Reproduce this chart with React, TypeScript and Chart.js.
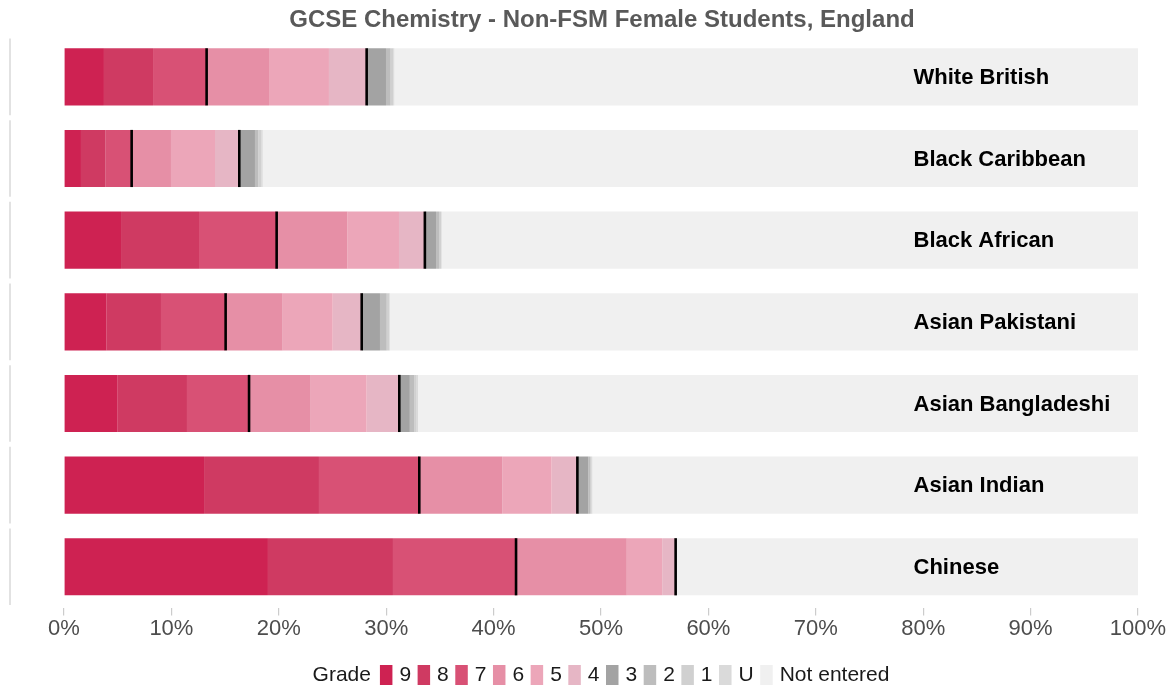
import React, { useEffect, useRef } from "react";
import { Chart, registerables } from "chart.js";

Chart.register(...registerables);

const TITLE = "GCSE Chemistry - Non-FSM Female Students, England";
const categories = [
  "White British",
  "Black Caribbean",
  "Black African",
  "Asian Pakistani",
  "Asian Bangladeshi",
  "Asian Indian",
  "Chinese",
];
const gradeLabels = ["9", "8", "7", "6", "5", "4", "3", "2", "1", "U", "Not entered"];
const grade9 = [3.72, 1.58, 5.31, 3.97, 5.0, 13.04, 18.99];
const grade8 = [4.57, 2.3, 7.26, 5.06, 6.45, 10.7, 11.64];
const grade7 = [4.99, 2.42, 7.23, 6.02, 5.78, 9.34, 11.46];
const grade6 = [5.81, 3.66, 6.6, 5.31, 5.74, 7.72, 10.31];
const grade5 = [5.58, 4.1, 4.79, 4.66, 5.21, 4.6, 3.3];
const grade4 = [3.51, 2.26, 2.41, 2.7, 3.04, 2.4, 1.25];
const grade3 = [1.8, 1.46, 1.04, 1.7, 0.98, 1.02, 0.05];
const grade2 = [0.43, 0.32, 0.28, 0.63, 0.4, 0.16, 0.02];
const grade1 = [0.25, 0.3, 0.18, 0.24, 0.24, 0.15, 0.02];
const gradeU = [0.1, 0.1, 0.07, 0.06, 0.12, 0.07, 0.02];
const notEntered = [69.24, 81.5, 64.83, 69.65, 67.04, 50.8, 42.94];
const xTicks = [0, 10, 20, 30, 40, 50, 60, 70, 80, 90, 100];

const seriesValues = [grade9, grade8, grade7, grade6, grade5, grade4, grade3, grade2, grade1, gradeU, notEntered];
const colors = [
  "#CE2252",
  "#CF3A62",
  "#D85175",
  "#E68FA6",
  "#ECA6B9",
  "#E6B6C5",
  "#A3A3A3",
  "#BDBDBD",
  "#D0D0D0",
  "#DADADA",
  "#F0F0F0",
];

const FONT = "'Liberation Sans', Arial, sans-serif";

const decorPlugin = {
  id: "decor",
  afterDatasetsDraw(chart: any) {
    const ctx = chart.ctx;
    const xs = chart.scales.x;
    const ys = chart.scales.y;
    const area = chart.chartArea;
    const band = (area.bottom - area.top) / categories.length;
    ctx.save();
    // left strip lines
    ctx.strokeStyle = "#D9D9D9";
    ctx.lineWidth = 1.5;
    categories.forEach((_, i) => {
      const cy = ys.getPixelForValue(i);
      ctx.beginPath();
      ctx.moveTo(10, cy - band / 2 + 2.5);
      ctx.lineTo(10, cy + band / 2 - 2.5);
      ctx.stroke();
    });
    // black marker lines at cumulative grade 7+ and 4+
    const meta = chart.getDatasetMeta(0);
    categories.forEach((_, i) => {
      const bar: any = meta.data[i];
      const h = bar.height;
      const cy = bar.y;
      let c7 = 0;
      for (let k = 0; k < 3; k++) c7 += seriesValues[k][i];
      let c4 = 0;
      for (let k = 0; k < 6; k++) c4 += seriesValues[k][i];
      ctx.strokeStyle = "#000000";
      ctx.lineWidth = 2.6;
      [c7, c4].forEach((v) => {
        const px = xs.getPixelForValue(v);
        ctx.beginPath();
        ctx.moveTo(px, cy - h / 2);
        ctx.lineTo(px, cy + h / 2);
        ctx.stroke();
      });
      // category label
      ctx.fillStyle = "#000000";
      ctx.font = `bold 22px ${FONT}`;
      ctx.textAlign = "left";
      ctx.textBaseline = "middle";
      ctx.fillText(categories[i], xs.getPixelForValue(79.1), cy + 1);
    });
    ctx.restore();
  },
  afterDraw(chart: any) {
    const ctx = chart.ctx;
    const area = chart.chartArea;
    const cx = (area.left + area.right) / 2;
    ctx.save();
    // title
    ctx.fillStyle = "#595959";
    ctx.font = `bold 24px ${FONT}`;
    ctx.textAlign = "center";
    ctx.textBaseline = "middle";
    ctx.fillText(TITLE, cx + 1, 20);
    // legend
    ctx.font = `21px ${FONT}`;
    const boxW = 12.5;
    const boxH = 20;
    const gapAfterTitle = 9;
    const gapBoxText = 7;
    const gapItem = 6.5;
    const titleW = ctx.measureText("Grade").width;
    let total = titleW + gapAfterTitle;
    gradeLabels.forEach((g, i) => {
      total += boxW + gapBoxText + ctx.measureText(g).width;
      if (i < gradeLabels.length - 1) total += gapItem;
    });
    let x = cx - total / 2;
    const ly = 675;
    ctx.textAlign = "left";
    ctx.fillStyle = "#1A1A1A";
    ctx.fillText("Grade", x, ly);
    x += titleW + gapAfterTitle;
    gradeLabels.forEach((g, i) => {
      ctx.fillStyle = colors[i];
      ctx.fillRect(x, ly - boxH / 2, boxW, boxH);
      x += boxW + gapBoxText;
      ctx.fillStyle = "#1A1A1A";
      ctx.fillText(g, x, ly);
      x += ctx.measureText(g).width + gapItem;
    });
    ctx.restore();
  },
};

export default function App() {
  const ref = useRef<HTMLCanvasElement | null>(null);
  useEffect(() => {
    if (!ref.current) return;
    const chart = new Chart(ref.current, {
      type: "bar",
      data: {
        labels: categories,
        datasets: gradeLabels.map((g, i) => ({
          label: g,
          data: seriesValues[i],
          backgroundColor: colors[i],
          borderWidth: 0,
          barPercentage: 0.7,
          categoryPercentage: 1,
        })),
      },
      options: {
        indexAxis: "y",
        animation: false,
        responsive: true,
        maintainAspectRatio: false,
        layout: { padding: { top: 36, left: 64, right: 37, bottom: 46 } },
        plugins: {
          legend: { display: false },
          title: { display: false },
          tooltip: { enabled: false },
        },
        scales: {
          x: {
            stacked: true,
            min: 0,
            max: 100,
            afterBuildTicks: (scale: any) => {
              scale.ticks = xTicks.map((v) => ({ value: v }));
            },
            ticks: {
              callback: (v: any) => `${v}%`,
              color: "#4D4D4D",
              font: { family: FONT, size: 22 },
              padding: 0,
              maxRotation: 0,
              autoSkip: false,
            },
            grid: {
              drawOnChartArea: false,
              drawTicks: true,
              tickLength: 8,
              color: "#CCCCCC",
              lineWidth: 1.2,
            },
            border: { display: false },
          },
          y: {
            stacked: true,
            display: false,
          },
        },
      },
      plugins: [decorPlugin],
    });
    return () => chart.destroy();
  }, []);
  return (
    <div style={{ position: "fixed", left: 0, top: 0, width: 1175, height: 688, background: "#ffffff" }}>
      <canvas ref={ref} />
    </div>
  );
}
